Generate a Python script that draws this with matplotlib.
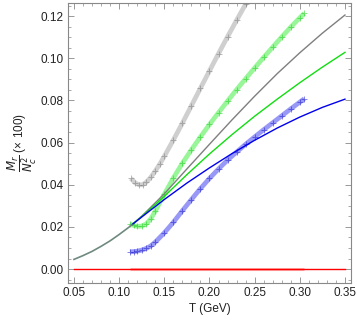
import numpy as np
import matplotlib.pyplot as plt
from matplotlib.ticker import MultipleLocator

plt.rcParams['font.family'] = ['Liberation Sans', 'DejaVu Sans']
plt.rcParams['mathtext.fontset'] = 'dejavusans'

# common low-T part of the three solid curves
T_low = [0.05, 0.06, 0.07, 0.08, 0.09, 0.10, 0.11, 0.114]
y_low = [0.0046, 0.0064, 0.0084, 0.0108, 0.0134, 0.0164, 0.0196, 0.0210]

# solid curves after the split
T_hi = [0.114, 0.125, 0.15, 0.175, 0.20, 0.225, 0.25, 0.275, 0.30, 0.325, 0.35]
gray_hi = [0.0210, 0.0251, 0.0357, 0.0475, 0.0592, 0.0708, 0.0820, 0.0927, 0.1026, 0.1119, 0.1205]
green_hi = [0.0210, 0.0249, 0.0345, 0.0448, 0.0546, 0.0638, 0.0725, 0.0806, 0.0884, 0.0958, 0.1028]
blue_hi = [0.0210, 0.0247, 0.0330, 0.0408, 0.0480, 0.0548, 0.0611, 0.0669, 0.0721, 0.0767, 0.0806]

# data bands (markers)
T_gray_m = [0.113, 0.118, 0.122, 0.126, 0.130, 0.135, 0.140, 0.145, 0.150, 0.160, 0.170,
            0.180, 0.190, 0.200, 0.210, 0.220, 0.230, 0.240, 0.250]
gray_m = [0.0430, 0.0408, 0.0400, 0.0400, 0.0412, 0.0435, 0.0465, 0.0498, 0.0535, 0.0612, 0.0692,
          0.0775, 0.0858, 0.0940, 0.1022, 0.1102, 0.1180, 0.1256, 0.1330]

T_m = [0.112, 0.116, 0.120, 0.125, 0.130, 0.135, 0.140, 0.150, 0.160, 0.170, 0.180, 0.190,
       0.200, 0.210, 0.220, 0.230, 0.240, 0.250, 0.260, 0.270, 0.280, 0.290, 0.300, 0.305]
green_m = [0.0215, 0.0207, 0.0203, 0.0204, 0.0214, 0.0238, 0.0275, 0.0355, 0.0432, 0.0502, 0.0566, 0.0627,
           0.0686, 0.0742, 0.0797, 0.0851, 0.0903, 0.0954, 0.1004, 0.1053, 0.1101, 0.1148, 0.1192, 0.1213]
blue_m = [0.0082, 0.0083, 0.0085, 0.0090, 0.0098, 0.0110, 0.0128, 0.0172, 0.0222, 0.0277, 0.0330, 0.0382,
          0.0430, 0.0475, 0.0517, 0.0555, 0.0592, 0.0627, 0.0661, 0.0694, 0.0727, 0.0760, 0.0792, 0.0808]
red_m = [0.0] * len(T_m)

red_T = [0.05, 0.35]
red_y = [0.0, 0.0]

fig = plt.figure(figsize=(3.57, 3.2), dpi=100)
ax = fig.add_axes([0.1905, 0.1156, 0.7925, 0.875])

# bands
def band(T, y, col, mcol):
    ax.plot(T, y, color=col, lw=3.4, alpha=0.5, solid_capstyle='butt', zorder=2)
    ax.plot(T, y, '+', color=mcol, ms=4, mew=0.7, alpha=0.55, zorder=2)

band(T_gray_m, gray_m, '#a0a0a0', '#808080')
band(T_m, green_m, '#33ee33', '#22cc22')
band(T_m, blue_m, '#3333ee', '#2222cc')
ax.plot(T_m, red_m, color='#ff6666', lw=2.2, alpha=0.5, solid_capstyle='butt', zorder=2)

# solid curves
lw = 1.0
ax.plot(T_hi, gray_hi, color='#7f7f7f', lw=lw, zorder=3)
ax.plot(T_hi, green_hi, color='#11dd11', lw=lw, zorder=3)
ax.plot(T_hi, blue_hi, color='#0000ee', lw=lw, zorder=3)
ax.plot(T_low, y_low, color='#6f8a7f', lw=1.2, zorder=4)
ax.plot(red_T, red_y, color='#ff0000', lw=lw, zorder=4)

ax.set_xlim(0.0434, 0.3566)
ax.set_ylim(-0.0066, 0.1262)

ax.xaxis.set_major_locator(MultipleLocator(0.05))
ax.xaxis.set_minor_locator(MultipleLocator(0.01))
ax.yaxis.set_major_locator(MultipleLocator(0.02))
ax.yaxis.set_minor_locator(MultipleLocator(0.005))
ax.xaxis.set_major_formatter(plt.FuncFormatter(lambda v, p: f"{v:.2f}"))
ax.yaxis.set_major_formatter(plt.FuncFormatter(lambda v, p: f"{v:.2f}"))

ax.tick_params(which='both', direction='in', top=True, right=True, color='#888888',
               labelsize=8.5, labelcolor='#222222', pad=3)
ax.tick_params(which='major', length=4, width=0.6)
ax.tick_params(which='minor', length=2, width=0.5)
for s in ax.spines.values():
    s.set_color('#888888')
    s.set_linewidth(0.8)

ax.set_xlabel("T (GeV)", fontsize=8.5, color='#222222', labelpad=3)
ax.set_ylabel(r"$\dfrac{M_r}{N_c^2}$ (× 100)", fontsize=8.5, color='#222222', labelpad=1)

fig.savefig("out.png", dpi=100)
